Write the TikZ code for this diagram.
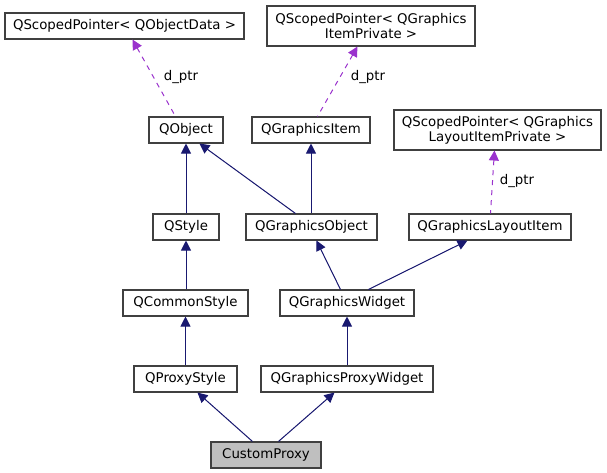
\documentclass[tikz,border=0pt]{standalone}
\usepackage{fontspec}
\setmainfont{DejaVu Sans}
\usetikzlibrary{arrows.meta,calc}
\definecolor{inhblue}{HTML}{191970}
\definecolor{usepurple}{HTML}{9A32CD}
\definecolor{boxline}{HTML}{404040}
\definecolor{curfill}{HTML}{BFBFBF}
\begin{document}
\begin{tikzpicture}[x=0.75pt,y=-0.75pt,
  box/.style={draw=boxline, line width=0.8pt, fill=white, inner sep=0pt, minimum height=19.5pt, align=center, font=\fontsize{10pt}{11.5pt}\selectfont},
  inh/.style={draw=inhblue, line width=0.75pt, {Triangle[length=7.5pt,width=7.5pt]}-, fill=inhblue},
  use/.style={draw=usepurple, line width=0.75pt, dash pattern=on 3.75pt off 3.75pt, {Triangle[length=7.5pt,width=7.5pt,fill=usepurple]}-},
  lbl/.style={font=\fontsize{10pt}{11.5pt}\selectfont, inner sep=0pt}]
\useasboundingbox (0,0) rectangle (607,473);
% nodes
\node[box, minimum width=179.25pt] (A) at (124.5,26) {QScopedPointer< QObjectData >};
\node[box, minimum width=156pt, minimum height=30pt] (B) at (371,26) {QScopedPointer< QGraphics\\ItemPrivate >};
\node[box, minimum width=155.25pt, minimum height=30pt] (C) at (497.5,130) {QScopedPointer< QGraphics\\LayoutItemPrivate >};
\node[box, minimum width=55.5pt] (D) at (186,130) {QObject};
\node[box, minimum width=88.5pt] (E) at (311,130) {QGraphicsItem};
\node[box, minimum width=49.5pt] (F) at (186,227) {QStyle};
\node[box, minimum width=98.25pt] (G) at (311.5,227) {QGraphicsObject};
\node[box, minimum width=121.5pt] (H) at (490,227) {QGraphicsLayoutItem};
\node[box, minimum width=93.75pt] (I) at (185.5,303) {QCommonStyle};
\node[box, minimum width=100.5pt] (J) at (347,303) {QGraphicsWidget};
\node[box, minimum width=77.25pt] (K) at (185.5,379) {QProxyStyle};
\node[box, minimum width=129pt] (L) at (347,379) {QGraphicsProxyWidget};
\node[box, minimum width=82.5pt, fill=curfill] (M) at (266,455) {CustomProxy};
% usage (dashed) edges
\draw[use] ($(A.south west)+(128,0)$) -- ($(D.north west)+(27,0)$);
\draw[use] ($(B.south west)+(91,0)$) -- ($(E.north west)+(66,0)$);
\draw[use] ($(C.south west)+(101,0)$) -- ($(H.north west)+(82,0)$);
\node[lbl] (l1) at (181,77) {d\_ptr};
\node[lbl] (l2) at (368,77) {d\_ptr};
\node[lbl] (l3) at (517,181) {d\_ptr};
% inheritance edges
\draw[inh] (D.south) -- (F.north);
\draw[inh] ($(D.south west)+(51,0)$) -- ($(G.north west)+(50,0)$);
\draw[inh] (E.south) -- (E.south |- G.north);
\draw[inh] (F.south) -- (F.south |- I.north);
\draw[inh] ($(G.south west)+(71,0)$) -- ($(J.north west)+(61,0)$);
\draw[inh] ($(H.south west)+(59,0)$) -- ($(J.north west)+(89,0)$);
\draw[inh] (I.south) -- (I.south |- K.north);
\draw[inh] (J.south) -- (L.north);
\draw[inh] ($(K.south west)+(64,0)$) -- ($(M.north west)+(42,0)$);
\draw[inh] ($(L.south west)+(74,0)$) -- ($(M.north west)+(68,0)$);
\end{tikzpicture}
\end{document}
